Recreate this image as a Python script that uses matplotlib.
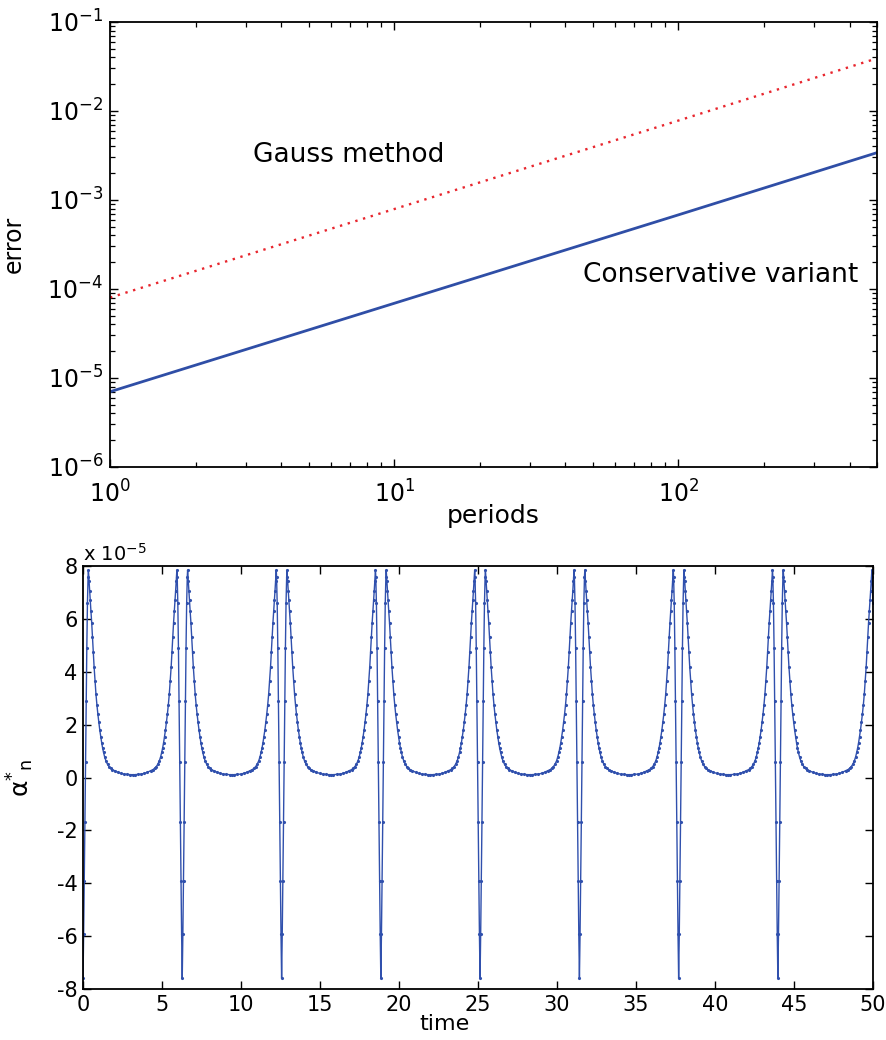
import matplotlib
matplotlib.use("Agg")
import matplotlib.pyplot as plt
import numpy as np
from matplotlib.ticker import FixedLocator, FuncFormatter, NullFormatter

plt.rcParams['font.family'] = ['DejaVu Sans']
plt.rcParams['mathtext.default'] = 'regular'

# top panel: error vs periods (straight lines in log-log)
periods = [1, 10, 100, 500]
err_gauss = [8.0e-5, 7.9e-4, 7.8e-3, 3.9e-2]
err_conservative = [7.0e-6, 6.9e-5, 6.8e-4, 3.4e-3]

# bottom panel: alpha*_n over time, one period
# offsets from each dip (time units) and values in units of 1e-5
dip_times = [0.0, 6.28, 12.57, 18.85, 25.13, 31.42, 37.70, 43.98, 50.27]
half_offsets = [0.00, 0.04, 0.08, 0.12, 0.16, 0.20, 0.24, 0.28, 0.32, 0.34,
                0.38, 0.42, 0.46, 0.50, 0.55, 0.60, 0.65, 0.70, 0.76, 0.82,
                0.88, 0.94, 1.00, 1.06, 1.12, 1.18, 1.24, 1.30, 1.37, 1.45,
                1.55, 1.65, 1.75, 1.85, 2.00, 2.20, 2.40, 2.60, 2.80, 3.00,
                3.14]
half_values = [-7.60, -5.90, -3.90, -1.70, 0.60, 2.90, 4.90, 6.60, 7.60, 7.85,
               7.45, 7.05, 6.70, 6.30, 5.85, 5.30, 4.75, 4.20, 3.65, 3.15,
               2.75, 2.40, 2.10, 1.80, 1.55, 1.32, 1.12, 0.95, 0.78, 0.63,
               0.50, 0.41, 0.35, 0.30, 0.26, 0.20, 0.16, 0.13, 0.12, 0.11,
               0.11]
time_ticks = [0, 5, 10, 15, 20, 25, 30, 35, 40, 45, 50]
alpha_ticks = [-8, -6, -4, -2, 0, 2, 4, 6, 8]

# build the time series by repeating the read period at each dip
off = np.array(half_offsets)
val = np.array(half_values)
prof_t = np.concatenate([-off[:0:-1][1:], off])
prof_v = np.concatenate([val[:0:-1][1:], val])
t_all = np.concatenate([d + prof_t for d in dip_times])
v_all = np.concatenate([prof_v for d in dip_times])
keep = (t_all >= 0) & (t_all <= 50)
t_all = t_all[keep]
v_all = v_all[keep] * 1e-5

fig = plt.figure(figsize=(8.86, 10.4), dpi=100)

# ---------- top ----------
ax1 = fig.add_axes([0.1242, 0.551, 0.8657, 0.4279])
ax1.loglog(periods, err_gauss, color='#e8262e', lw=1.7, ls=(0, (1.0, 2.4)))
ax1.loglog(periods, err_conservative, color='#2f4ea6', lw=2.0)
ax1.set_xlim(1, 500)
ax1.set_ylim(1e-6, 1e-1)
x_major = [1, 10, 100]
x_minor = [k * 10.0 ** e for e in range(0, 3) for k in range(2, 10) if k * 10.0 ** e <= 500]
y_major = [10.0 ** e for e in range(-6, 0)]
y_minor = [k * 10.0 ** e for e in range(-6, -1) for k in range(2, 10)]
ax1.xaxis.set_major_locator(FixedLocator(x_major))
ax1.xaxis.set_minor_locator(FixedLocator(x_minor))
ax1.yaxis.set_major_locator(FixedLocator(y_major))
ax1.yaxis.set_minor_locator(FixedLocator(y_minor))
ax1.xaxis.set_minor_formatter(NullFormatter())
ax1.yaxis.set_minor_formatter(NullFormatter())
ax1.tick_params(which='both', direction='in', top=True, right=True, width=1.0)
ax1.tick_params(which='major', length=5.5, labelsize=17)
ax1.tick_params(axis='y', which='major', pad=5)
ax1.tick_params(axis='x', which='major', pad=10)
ax1.tick_params(which='minor', length=3.5, width=0.9)
ax1.set_ylabel('error', fontsize=17)
ax1.set_xlabel('periods', fontsize=18)
ax1.yaxis.set_label_coords(-0.11, 0.5)
ax1.xaxis.set_label_coords(0.5, -0.083)
ax1.text(3.19, 3.2e-3, 'Gauss method', fontsize=19, ha='left', va='center')
ax1.text(46.2, 1.44e-4, 'Conservative variant', fontsize=19, ha='left', va='center')
for s in ax1.spines.values():
    s.set_linewidth(1.3)

# ---------- bottom ----------
ax2 = fig.add_axes([0.0937, 0.049, 0.8916, 0.4067])
ax2.plot(t_all, v_all, color='#3050ad', lw=1.0, marker='.', markersize=2.5)
ax2.set_xlim(0, 50)
ax2.set_ylim(-8e-5, 8e-5)
ax2.xaxis.set_major_locator(FixedLocator(time_ticks))
ax2.yaxis.set_major_locator(FixedLocator([v * 1e-5 for v in alpha_ticks]))
ax2.yaxis.set_major_formatter(FuncFormatter(lambda v, p: '%d' % round(v / 1e-5)))
ax2.tick_params(direction='in', top=True, right=True, length=6, width=1.0,
                labelsize=15, pad=4)
ax2.set_xlabel('time', fontsize=16)
ax2.xaxis.set_label_coords(0.457, -0.058)
ax2.set_ylabel(r'$\alpha^{*}{}_{n}$', fontsize=18)
ax2.yaxis.set_label_coords(-0.06, 0.5)
ax2.text(0.0, 1.004, r'x 10$^{-5}$', transform=ax2.transAxes, fontsize=14,
         ha='left', va='bottom')
for s in ax2.spines.values():
    s.set_linewidth(1.3)

fig.savefig('out.png', dpi=100)
